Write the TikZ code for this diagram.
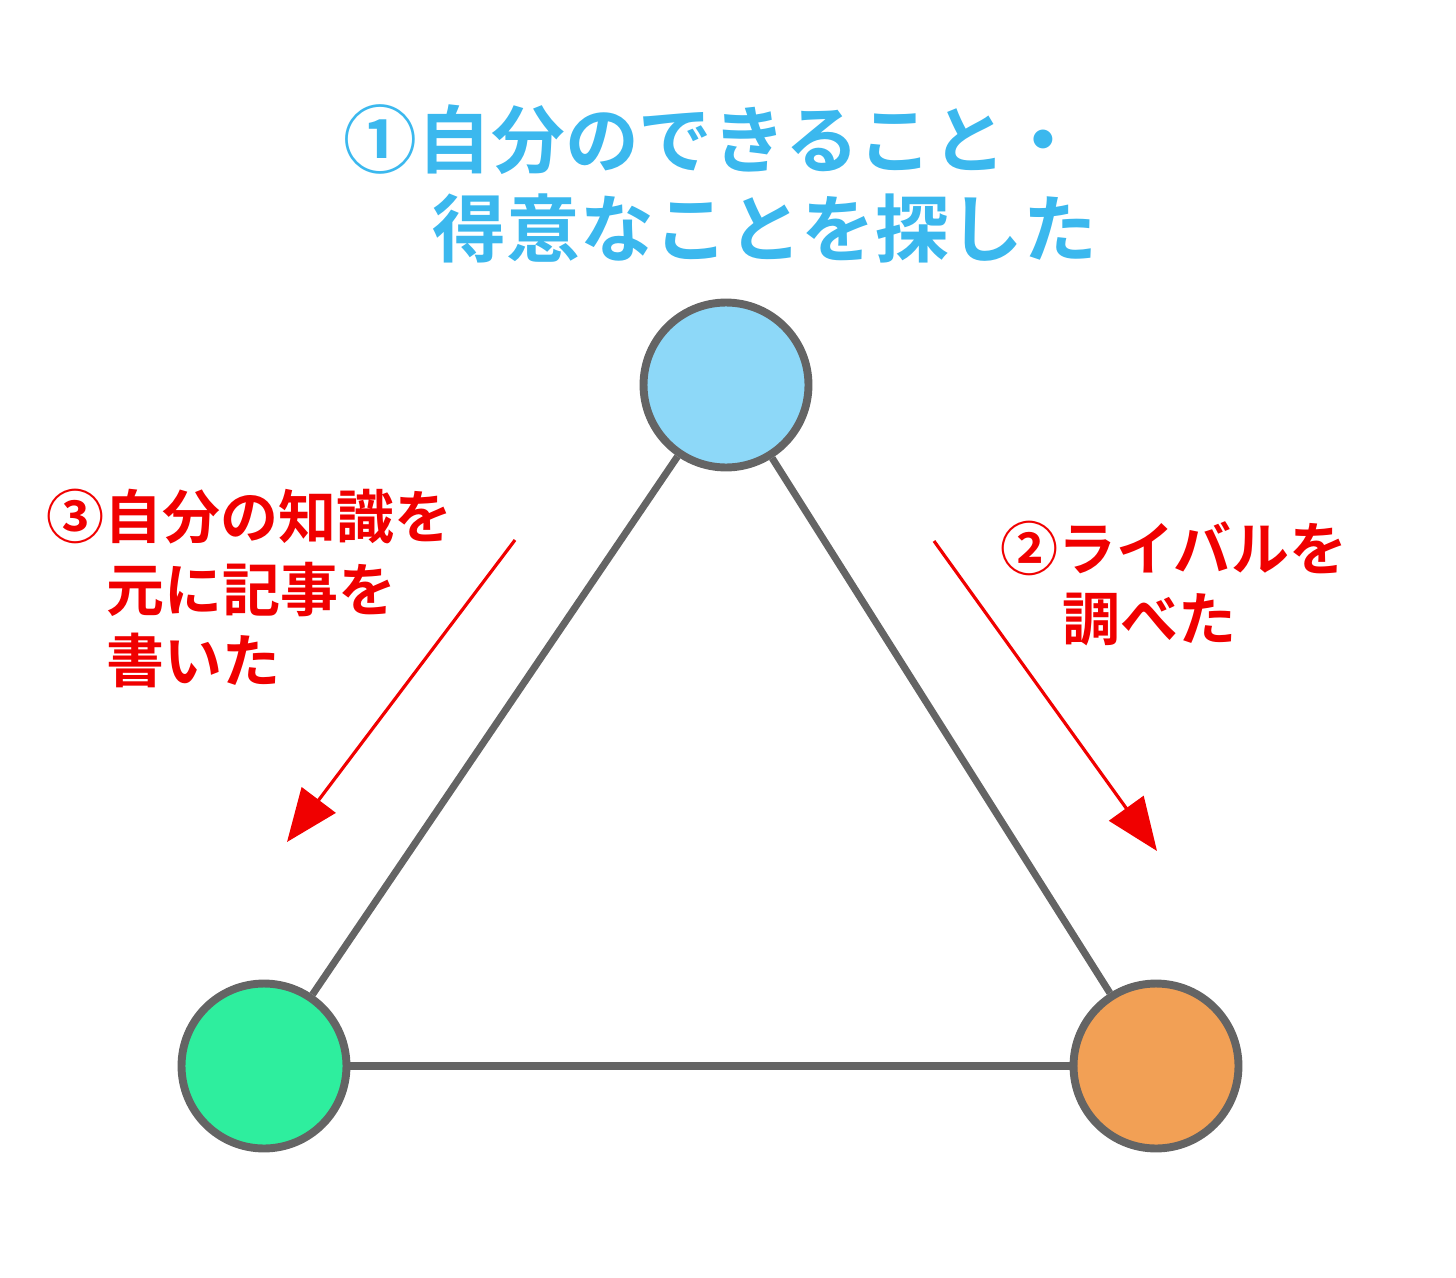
\documentclass[tikz,border=0pt]{standalone}
\usepackage{fontspec}
\newfontfamily\cjk{Noto Sans CJK JP Bold}
\usetikzlibrary{arrows.meta}
\definecolor{tb}{HTML}{3BB8EE}
\definecolor{ca}{HTML}{8DD8F8}
\definecolor{cb}{HTML}{2EEE9E}
\definecolor{cc}{HTML}{F2A055}
\definecolor{gr}{HTML}{646464}
\definecolor{rd}{HTML}{F00000}
\begin{document}
\begin{tikzpicture}[x=0.02cm,y=-0.02cm,
  ball/.style={circle,draw=gr,line width=4.5pt,minimum size=3.3cm,inner sep=0pt},
  edge/.style={draw=gr,line width=4pt},
  rarrow/.style={draw=rd,line width=1.8pt,-{Triangle[length=30pt,width=24pt]}},
  title/.style={font=\cjk\fontsize{42}{50}\selectfont,text=tb},
  rtext/.style={font=\cjk\fontsize{33}{40}\selectfont,text=rd,anchor=west,inner sep=0pt}]
\useasboundingbox (0,0) rectangle (1456,1277);
\node[ball,fill=ca] (A) at (726,385) {};
\node[ball,fill=cb] (B) at (264,1066) {};
\node[ball,fill=cc] (C) at (1156,1066) {};
\draw[edge] (A) -- (B);
\draw[edge] (A) -- (C);
\draw[edge] (B) -- (C);
\coordinate (a1) at (515,540); \coordinate (a2) at (287,842);
\coordinate (b1) at (934,541); \coordinate (b2) at (1157,851);
\draw[rarrow] (a1) -- (a2);
\draw[rarrow] (b1) -- (b2);
\node[title] (t1) at (712,140) {①自分のできること・};
\node[title] (t2) at (765,228) {得意なことを探した};
\node[rtext] (l1) at (46,517) {③自分の知識を};
\node[rtext] (l2) at (106,590) {元に記事を};
\node[rtext] (l3) at (106,660) {書いた};
\node[rtext] (r1) at (1000,548) {②ライバルを};
\node[rtext] (r2) at (1062,620) {調べた};
\end{tikzpicture}
\end{document}
